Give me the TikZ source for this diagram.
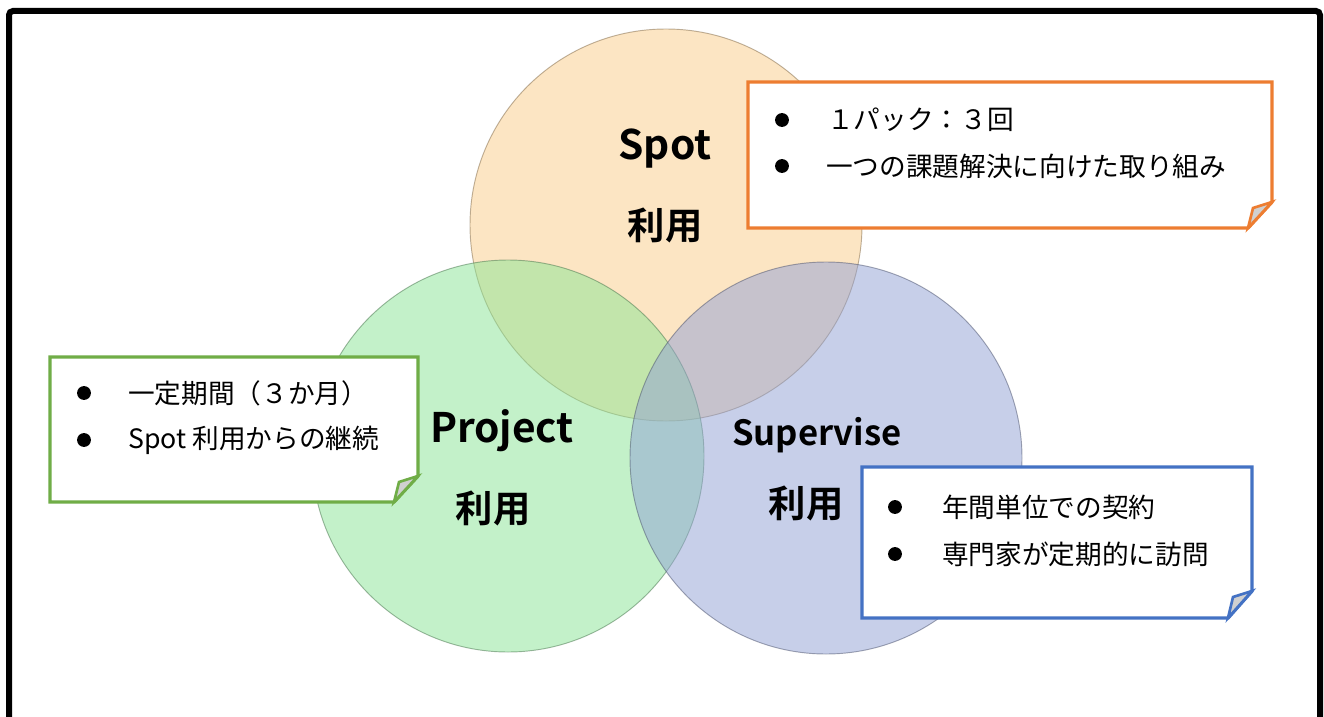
\documentclass[tikz,border=0pt]{standalone}
\usepackage{fontspec}
\setmainfont{Noto Sans CJK JP}
\newfontfamily\jpbold{Noto Sans CJK JP Bold}
\definecolor{spotfill}{HTML}{FBCD89}
\definecolor{projfill}{HTML}{89E595}
\definecolor{supfill}{HTML}{91A1D5}
\definecolor{orangeline}{HTML}{ED7D31}
\definecolor{greenline}{HTML}{70AD47}
\definecolor{blueline}{HTML}{4472C4}
\definecolor{flapgray}{HTML}{D0D0D0}
\tikzset{
  venn/.style={fill opacity=0.5, draw=#1!50!black, draw opacity=0.5, line width=0.7pt},
  biglabel/.style={font=\jpbold\fontsize{30.5}{30.5}\selectfont, inner sep=0pt},
  kanjilabel/.style={font=\jpbold\fontsize{28}{28}\selectfont, inner sep=0pt},
  itemtext/.style={font=\fontsize{20}{20}\selectfont, anchor=west, inner sep=0pt},
  bulletdot/.style={fill=black},
  callout/.style={draw=#1, line width=2.6pt, fill=white, line join=miter},
  flap/.style={draw=#1, line width=2pt, fill=flapgray, line join=miter},
}
\begin{document}
\begin{tikzpicture}[x=0.75pt,y=-0.75pt]
\useasboundingbox (0,0) rectangle (1324,717);
\clip (0,0) rectangle (1324,717);
\fill[white] (0,0) rectangle (1324,717);
% frame
\draw[line width=4.5pt, rounded corners=3pt] (9,11) rectangle (1320,780);

% circles
\path[venn=spotfill, fill=spotfill] (666,225) circle[radius=147pt];
\path[venn=projfill, fill=projfill] (508,456) circle[radius=147pt];
\path[venn=supfill, fill=supfill] (826,458) circle[radius=147pt];

% circle labels
\node[biglabel] (spot) at (665,149) {Spot};
\node[kanjilabel] (spotk) at (665,225) {利用};
\node[biglabel] (proj) at (502,431) {Project};
\node[kanjilabel] (projk) at (493,508) {利用};
\node[biglabel, font=\jpbold\fontsize{26}{26}\selectfont] (sup) at (817,435) {Supervise};
\node[kanjilabel] (supk) at (806,503) {利用};

% orange callout
\draw[callout=orangeline] (748,82) -- (1272,82) -- (1272,202) -- (1248,228) -- (748,228) -- cycle;
\draw[flap=orangeline] (1248,228) -- (1253,208) -- (1272,202) -- cycle;
\fill[bulletdot] (782,120) circle[radius=5.2pt];
\fill[bulletdot] (782,166) circle[radius=5.2pt];
\node[itemtext] (o1) at (827,120) {１パック：３回};
\node[itemtext] (o2) at (826,166) {一つの課題解決に向けた取り組み};

% green callout
\draw[callout=greenline] (50,357) -- (418,357) -- (418,476) -- (394,502) -- (50,502) -- cycle;
\draw[flap=greenline] (394,502) -- (399,482) -- (418,476) -- cycle;
\fill[bulletdot] (84,393) circle[radius=5.2pt];
\fill[bulletdot] (84,440) circle[radius=5.2pt];
\node[itemtext] (g1) at (128,393) {一定期間（３か月）};
\node[itemtext] (g2) at (128,440) {Spot 利用からの継続};

% blue callout
\draw[callout=blueline] (862,467) -- (1252,467) -- (1252,591) -- (1228,618) -- (862,618) -- cycle;
\draw[flap=blueline] (1228,618) -- (1233,597) -- (1252,591) -- cycle;
\fill[bulletdot] (895,507) circle[radius=5.2pt];
\fill[bulletdot] (895,554) circle[radius=5.2pt];
\node[itemtext] (b1) at (942,507) {年間単位での契約};
\node[itemtext] (b2) at (942,554) {専門家が定期的に訪問};
\end{tikzpicture}
\end{document}
